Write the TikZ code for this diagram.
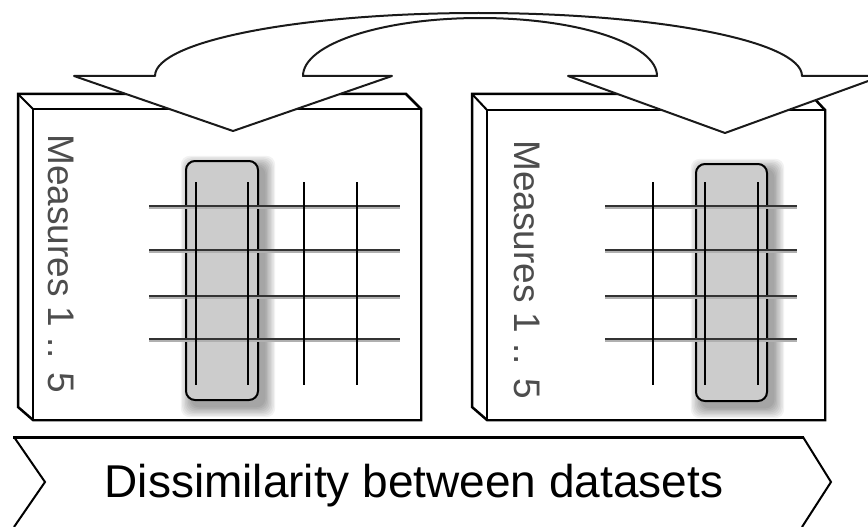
\documentclass[tikz,border=0pt]{standalone}
\usepackage{fontspec}
\setmainfont{Liberation Sans}
\definecolor{inkgray}{HTML}{4D4D4D}
\definecolor{rowgray}{HTML}{333333}
\definecolor{rowshade}{HTML}{B0B0B0}
\definecolor{pickfill}{HTML}{CCCCCC}
\definecolor{bandline}{HTML}{1A1A1A}

\begin{document}
\begin{tikzpicture}[
    x=1pt, y=-1pt,
    face/.style={draw=black, line width=2.5pt, fill=white, line join=miter},
    rowline/.style={draw=rowgray, line width=2pt},
    rowshadow/.style={draw=rowshade, line width=1.5pt},
    colline/.style={draw=black, line width=2pt},
    pick/.style={draw=black, line width=2pt, fill=pickfill, rounded corners=9pt},
    pickshadow/.style={fill=black, opacity=0.05},
    band/.style={draw=bandline, line width=2pt, fill=white, line join=round},
    chevron/.style={draw=black, line width=2pt},
    sidetext/.style={rotate=-90, inner sep=0pt, text=inkgray, font=\fontsize{37}{37}\selectfont},
    captiontext/.style={inner sep=0pt, font=\fontsize{46}{46}\selectfont}
  ]
    \useasboundingbox (0,0) rectangle (868,527);
    \clip (0,0) rectangle (868,527);

    \fill[white] (0,0) rectangle (868,527);

    % left dataset
    \draw[face] (18,94) -- (406,94) -- (421,109) -- (421,420) -- (33,420) -- (18,407) -- cycle;
    \draw[face] (33,109) rectangle (421,420);
    \draw[line width=2pt] (18,94) -- (33,109);
    \foreach \k in {1,...,8}
      \fill[pickshadow, rounded corners=9pt] (192-1.4*\k,167-1.4*\k) rectangle (264+1.4*\k,406+1.4*\k);
    \draw[pick] (186,161) rectangle (258,400);
    \foreach \r in {206,250,296,339} {
      \draw[rowshadow] (149,\r+2) -- (400,\r+2);
      \draw[rowline] (149,\r) -- (400,\r);
    }
    \foreach \c in {196,248,304,357}
      \draw[colline] (\c,182) -- (\c,385);
    \node[sidetext, anchor=base west] (measA) at (48,134) {Measures 1 .. 5};

    % right dataset
    \draw[face] (472,94) -- (810,94) -- (825,110) -- (825,420) -- (487,420) -- (472,407) -- cycle;
    \draw[face] (487,110) rectangle (825,420);
    \draw[line width=2pt] (472,94) -- (487,110);
    \foreach \k in {1,...,8}
      \fill[pickshadow, rounded corners=9pt] (702-1.4*\k,170-1.4*\k) rectangle (773+1.4*\k,407+1.4*\k);
    \draw[pick] (696,164) rectangle (767,401);
    \foreach \r in {206,250,296,339} {
      \draw[rowshadow] (605,\r+2) -- (797,\r+2);
      \draw[rowline] (605,\r) -- (797,\r);
    }
    \foreach \c in {653,705,758}
      \draw[colline] (\c,182) -- (\c,385);
    \node[sidetext, anchor=base west] (measB) at (514,140) {Measures 1 .. 5};

    % crossing arrows
    \draw[band] (233,131) -- (74,76) -- (155,76)
      arc[start angle=180, end angle=360, x radius=323.5, y radius=63]
      -- (882,76) -- (725,133) -- (568,76) -- (657,76)
      arc[start angle=360, end angle=180, x radius=177, y radius=58]
      -- (392,76) -- cycle;

    % comparison banner
    \draw[chevron] (14,527) -- (45,482) -- (14,437);
    \draw[chevron] (803,437) -- (831,482) -- (802,527);
    \draw[black, line width=3pt] (13,437) -- (804,437);
    \node[captiontext, anchor=base] (caption) at (414,497) {Dissimilarity between datasets};
\end{tikzpicture}
\end{document}
